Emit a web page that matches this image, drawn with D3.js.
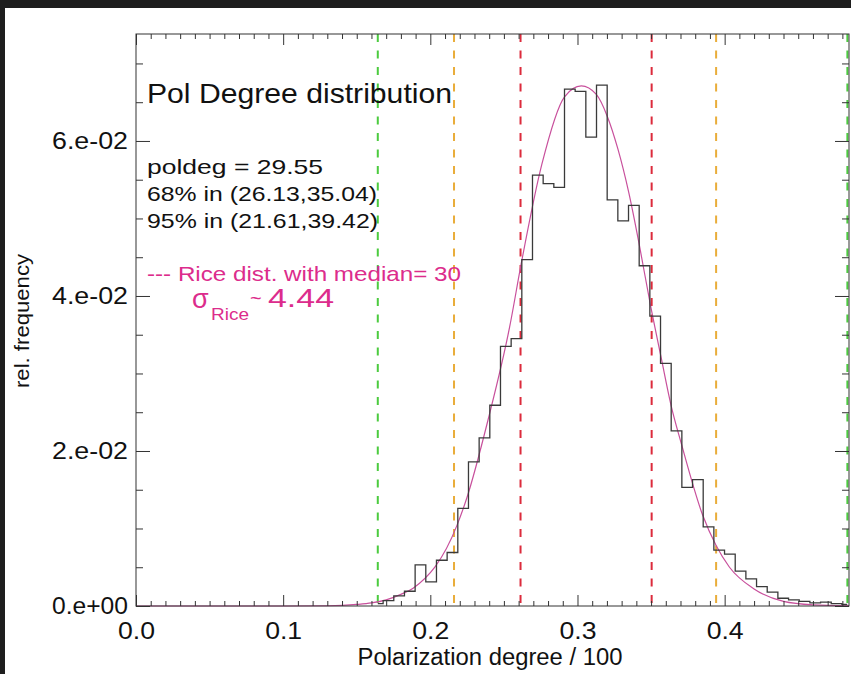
<!DOCTYPE html>
<html>
<head>
<meta charset="utf-8">
<script src="https://cdn.jsdelivr.net/npm/d3@7/dist/d3.min.js"></script>
<style>
  html, body { margin: 0; padding: 0; background: #1e1e1e; }
  svg { display: block; }
  text { font-family: "Liberation Sans", Arial, Helvetica, sans-serif; }
</style>
</head>
<body>
<svg id="chart" width="851" height="674"></svg>
<script>
// Histogram of the polarization degree (bin centres and relative frequencies)
const binStart = 0.1643;
const binWidth = 0.00725;
const relFreq = [
  0.0003, 0.0007, 0.0013, 0.0019, 0.0053, 0.0031, 0.0059, 0.0069, 0.0126, 0.0186,
  0.0217, 0.0259, 0.0335, 0.0345, 0.0447, 0.0556, 0.0545, 0.0540, 0.0667, 0.0664,
  0.0605, 0.0672, 0.0524, 0.0497, 0.0517, 0.0439, 0.0374, 0.0313, 0.0226, 0.0153,
  0.0163, 0.0102, 0.0072, 0.0067, 0.0045, 0.0035, 0.0025, 0.0018, 0.0010, 0.0008,
  0.0006, 0.0004, 0.0005, 0.0003, 0.0002
];

// Rice curve, sampled points (x, rel. frequency)
const riceX = [0.0, 0.10, 0.13, 0.15, 0.16, 0.17, 0.18, 0.1883, 0.2181, 0.2249, 0.2392, 0.2539,
  0.2618, 0.2758, 0.2912, 0.3026, 0.3128, 0.3202, 0.3274, 0.3349, 0.3422, 0.3494, 0.3569,
  0.3637, 0.3705, 0.3851, 0.3942, 0.4033, 0.42, 0.44, 0.46, 0.4845];
const riceY = [0.0, 0.0, 0.00003, 0.0002, 0.0004, 0.0008, 0.0015, 0.0023, 0.0104, 0.0140, 0.0240, 0.0360,
  0.0442, 0.0570, 0.0657, 0.0671, 0.0660, 0.0632, 0.0590, 0.0533, 0.0464, 0.0390, 0.0320,
  0.0258, 0.0210, 0.0117, 0.0078, 0.0050, 0.0022, 0.0006, 0.00015, 0.00002];

// Interval markers
const range68 = [0.2613, 0.3504];
const range95 = [0.2161, 0.3942];
const rangeAll = [0.1643, 0.4834];

// Axis ticks
const xTicks = [0.0, 0.1, 0.2, 0.3, 0.4];
const xTickLabels = ["0.0", "0.1", "0.2", "0.3", "0.4"];
const yTicks = [0.0, 0.02, 0.04, 0.06];
const yTickLabels = ["0.e+00", "2.e-02", "4.e-02", "6.e-02"];

// Annotation text
const titleText = "Pol Degree distribution";
const statLines = ["poldeg = 29.55", "68% in (26.13,35.04)", "95% in (21.61,39.42)"];
const riceLabel = "--- Rice dist. with median= 30";
const sigmaValue = "4.44";

const svg = d3.select("#chart");
const W = 851, H = 674;
const L = 136, R = 849, T = 34, B = 606;

svg.append("rect").attr("x", 0).attr("y", 0).attr("width", W).attr("height", H).attr("fill", "#1e1e1e");
svg.append("rect").attr("x", 5).attr("y", 8).attr("width", W - 5).attr("height", H - 8).attr("fill", "#ffffff");

const x = d3.scaleLinear().domain([0, 0.4845]).range([L, R]);
const y = d3.scaleLinear().domain([0, 0.0738]).range([B, T]);

const axisColor = "#333";

// Interval lines
function vline(v, color) {
  svg.append("line")
    .attr("x1", x(v)).attr("x2", x(v))
    .attr("y1", T).attr("y2", B)
    .attr("stroke", color).attr("stroke-width", 2)
    .attr("stroke-dasharray", "8,8.5");
}
rangeAll.forEach(v => vline(v, "#4ccb3f"));
range95.forEach(v => vline(v, "#e9ad3a"));
range68.forEach(v => vline(v, "#dc2b3c"));

// Rice curve
const ricePts = riceX.map((v, i) => [v, riceY[i]]);
svg.append("path")
  .datum(ricePts)
  .attr("fill", "none")
  .attr("stroke", "#c8509c")
  .attr("stroke-width", 1.2)
  .attr("d", d3.line().x(d => x(d[0])).y(d => y(d[1])).curve(d3.curveMonotoneX));

// Histogram (step line through bin centres)
const histPts = relFreq.map((v, i) => [binStart + i * binWidth, v]);
svg.append("path")
  .datum(histPts)
  .attr("fill", "none")
  .attr("stroke", "#3a3a3a")
  .attr("stroke-width", 1.3)
  .attr("d", d3.line().x(d => x(d[0])).y(d => y(d[1])).curve(d3.curveStep));

// Axes
const xMinor = d3.range(0, 0.4845, 0.01).filter(v => Math.abs(v * 10 - Math.round(v * 10)) > 1e-6);
const yMinor = d3.range(0, 0.0738, 0.005).filter(v => Math.abs(v * 50 - Math.round(v * 50)) > 1e-6);

function styleAxis(g) {
  g.selectAll(".domain").remove();
  g.selectAll("line").attr("stroke", axisColor).attr("stroke-width", 1);
}

svg.append("g").attr("transform", `translate(0,${B})`)
  .call(d3.axisBottom(x).tickValues(xTicks).tickSizeInner(-11).tickSizeOuter(0).tickPadding(17)
    .tickFormat((d, i) => xTickLabels[i]))
  .call(styleAxis)
  .call(g => g.selectAll("text").attr("fill", "#111").style("font-size", "23px")
    .attr("textLength", 37).attr("lengthAdjust", "spacingAndGlyphs"));
svg.append("g").attr("transform", `translate(0,${B})`)
  .call(d3.axisBottom(x).tickValues(xMinor).tickSizeInner(-5).tickSizeOuter(0).tickFormat(""))
  .call(styleAxis);
svg.append("g").attr("transform", `translate(0,${T})`)
  .call(d3.axisTop(x).tickValues(xTicks).tickSizeInner(-11).tickSizeOuter(0).tickFormat(""))
  .call(styleAxis);
svg.append("g").attr("transform", `translate(0,${T})`)
  .call(d3.axisTop(x).tickValues(xMinor).tickSizeInner(-5).tickSizeOuter(0).tickFormat(""))
  .call(styleAxis);

svg.append("g").attr("transform", `translate(${L},0)`)
  .call(d3.axisLeft(y).tickValues(yTicks).tickSizeInner(-14).tickSizeOuter(0).tickPadding(8)
    .tickFormat((d, i) => yTickLabels[i]))
  .call(styleAxis)
  .call(g => g.selectAll("text").attr("fill", "#111").style("font-size", "23px")
    .attr("textLength", 76).attr("lengthAdjust", "spacingAndGlyphs"));
svg.append("g").attr("transform", `translate(${L},0)`)
  .call(d3.axisLeft(y).tickValues(yMinor).tickSizeInner(-7).tickSizeOuter(0).tickFormat(""))
  .call(styleAxis);
svg.append("g").attr("transform", `translate(${R},0)`)
  .call(d3.axisRight(y).tickValues(yTicks).tickSizeInner(-14).tickSizeOuter(0).tickFormat(""))
  .call(styleAxis);
svg.append("g").attr("transform", `translate(${R},0)`)
  .call(d3.axisRight(y).tickValues(yMinor).tickSizeInner(-7).tickSizeOuter(0).tickFormat(""))
  .call(styleAxis);

// Plot frame
svg.append("rect").attr("x", L).attr("y", T).attr("width", R - L).attr("height", B - T)
  .attr("fill", "none").attr("stroke", axisColor).attr("stroke-width", 1);

// Axis titles
svg.append("text").attr("x", 490).attr("y", 665).attr("text-anchor", "middle")
  .attr("fill", "#111").style("font-size", "23px")
  .attr("textLength", 265).attr("lengthAdjust", "spacingAndGlyphs")
  .text("Polarization degree / 100");
svg.append("text").attr("transform", "translate(29,321) rotate(-90)").attr("text-anchor", "middle")
  .attr("fill", "#111").style("font-size", "21px")
  .attr("textLength", 134).attr("lengthAdjust", "spacingAndGlyphs")
  .text("rel. frequency");

// Annotations
svg.append("text").attr("x", 147).attr("y", 103).attr("fill", "#111").style("font-size", "28px")
  .attr("textLength", 305).attr("lengthAdjust", "spacingAndGlyphs").text(titleText);

const statWidths = [176, 230, 231];
const statY = [174, 201, 228];
statLines.forEach((s, i) => {
  svg.append("text").attr("x", 147).attr("y", statY[i]).attr("fill", "#111").style("font-size", "21px")
    .attr("textLength", statWidths[i]).attr("lengthAdjust", "spacingAndGlyphs").text(s);
});

const pink = "#dc2c8c";
svg.append("text").attr("x", 147).attr("y", 281).attr("fill", pink).style("font-size", "21px")
  .attr("textLength", 314).attr("lengthAdjust", "spacingAndGlyphs").text(riceLabel);
svg.append("text").attr("x", 192).attr("y", 308).attr("fill", pink).style("font-size", "27px").text("σ");
svg.append("text").attr("x", 211).attr("y", 320).attr("fill", pink).style("font-size", "16px")
  .attr("textLength", 38).attr("lengthAdjust", "spacingAndGlyphs").text("Rice");
svg.append("text").attr("x", 250).attr("y", 305).attr("fill", pink).style("font-size", "20px").text("~");
svg.append("text").attr("x", 268).attr("y", 307).attr("fill", pink).style("font-size", "25px")
  .attr("textLength", 66).attr("lengthAdjust", "spacingAndGlyphs").text(sigmaValue);
</script>
</body>
</html>
